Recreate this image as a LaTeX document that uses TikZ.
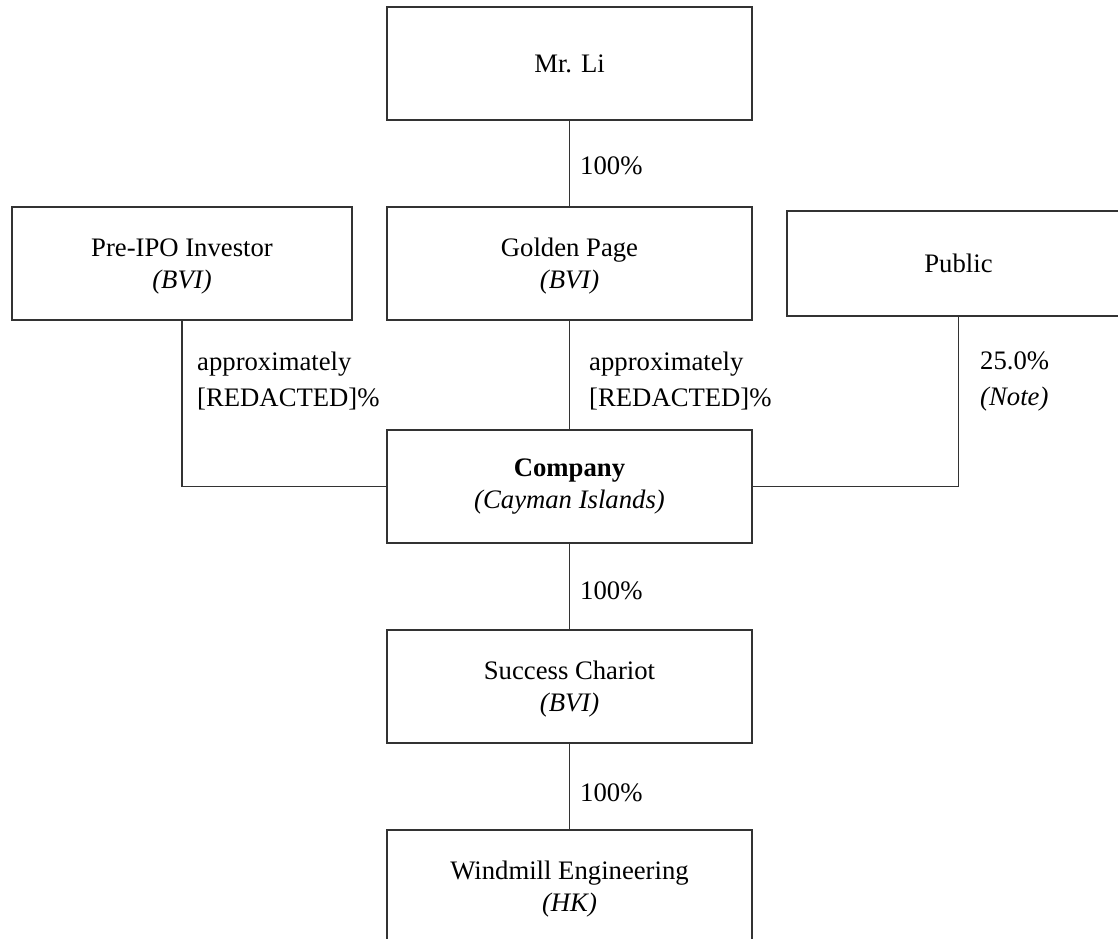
\documentclass[tikz,border=0pt]{standalone}
\usepackage{fontspec}
\setmainfont{Liberation Serif}
\begin{document}
\begin{tikzpicture}[x=1pt,y=-1pt,
  ent/.style={draw=black!80, line width=1.2pt, minimum width=365pt, minimum height=113pt, align=center, inner sep=0pt, font=\fontsize{26.7}{32}\selectfont},
  low/.style={text depth=0pt},
  lab/.style={anchor=west, align=left, inner sep=0pt, font=\fontsize{26.7}{36}\selectfont},
  conn/.style={draw=black!80, line width=1.2pt}]
\useasboundingbox (0,0) rectangle (1118,938);
\clip (0,0) rectangle (1118,938);
\node[ent] (li) at (569.5,63.5) {Mr. Li};
\node[ent, low] (gp) at (569.5,263.5) {Golden Page\\\textit{(BVI)}};
\node[ent, low, minimum width=340pt] (pre) at (182,263.5) {Pre-IPO Investor\\\textit{(BVI)}};
\node[ent, minimum width=343pt, minimum height=105pt] (pub) at (958.5,263.5) {Public};
\node[ent] (co) at (569.5,486.5) {\textbf{Company}\\\textit{(Cayman Islands)}};
\node[ent, low] (sc) at (569.5,686.5) {Success Chariot\\\textit{(BVI)}};
\node[ent, low] (wm) at (569.5,886.5) {Windmill Engineering\\\textit{(HK)}};
\draw[conn] (li.south) -- (gp.north);
\draw[conn] (gp.south) -- (co.north);
\draw[conn] (pre.south) |- (co.west);
\draw[conn] (pub.south) |- (co.east);
\draw[conn] (co.south) -- (sc.north);
\draw[conn] (sc.south) -- (wm.north);
\node[lab] (l1) at (580,166) {100\%};
\node[lab] (l2) at (589,381) {approximately\\{}[REDACTED]\%};
\node[lab] (l3) at (197,381) {approximately\\{}[REDACTED]\%};
\node[lab] (l4) at (980,381) {25.0\%\\\textit{(Note)}};
\node[lab] (l5) at (580,591) {100\%};
\node[lab] (l6) at (580,793) {100\%};
\end{tikzpicture}
\end{document}
